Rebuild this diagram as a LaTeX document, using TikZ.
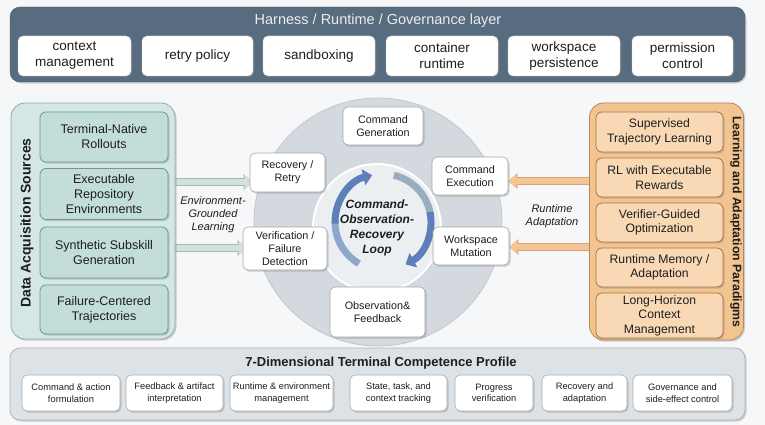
\documentclass[tikz,border=0pt]{standalone}
\usepackage{fontspec}
\setmainfont{Liberation Sans}
\usetikzlibrary{shadows,arrows.meta}
\pgfdeclarelayer{bg}
\pgfdeclarelayer{conn}
\pgfsetlayers{bg,conn,main}
\definecolor{bgc}{HTML}{F6F7F9}
\definecolor{slate}{HTML}{586C7F}
\definecolor{slateline}{HTML}{465868}
\definecolor{tealout}{HTML}{D4E7E4}
\definecolor{tealin}{HTML}{C3DDDA}
\definecolor{tealline}{HTML}{6F9894}
\definecolor{orout}{HTML}{F2C48F}
\definecolor{orin}{HTML}{F9D9B5}
\definecolor{orline}{HTML}{A8733D}
\definecolor{ringc}{HTML}{D3D9DF}
\definecolor{hubc}{HTML}{ECEFF2}
\definecolor{graypanel}{HTML}{DDE2E7}
\definecolor{txt}{HTML}{1E1E1E}
\definecolor{tarr}{HTML}{D2E2DE}
\definecolor{tarrline}{HTML}{A3B9B4}
\definecolor{oarr}{HTML}{F4C597}
\definecolor{oarrline}{HTML}{D9A26E}
\definecolor{blueA}{HTML}{8DA8CC}
\definecolor{blueB}{HTML}{5D80BA}
\definecolor{blueC}{HTML}{9AACC0}
\definecolor{topline}{HTML}{C9CED4}
\tikzset{
  sh/.style={drop shadow={shadow xshift=1.5pt, shadow yshift=-1.6pt, opacity=0.35}},
  topbox/.style={sh, fill=white, draw=topline, rounded corners=5pt, align=center, text=txt,
    font=\fontsize{13.5}{16}\selectfont, inner sep=1pt, minimum height=40pt},
  leftbox/.style={sh, fill=tealin, draw=tealline, line width=0.8pt, rounded corners=6pt,
    align=center, text=txt, font=\fontsize{12.5}{15}\selectfont, inner sep=1pt, minimum width=128pt},
  rightbox/.style={sh, fill=orin, draw=orline, line width=0.8pt, rounded corners=6pt,
    align=center, text=txt, font=\fontsize{12.2}{14.5}\selectfont, inner sep=1pt, minimum width=127pt},
  loopbox/.style={sh, fill=white, draw=gray!70, line width=0.6pt, rounded corners=5pt,
    align=center, text=txt, font=\fontsize{10.8}{13}\selectfont, inner sep=1pt},
  botbox/.style={sh, fill=white, draw=gray!65, line width=0.6pt, rounded corners=5pt,
    align=center, text=txt, font=\fontsize{9.3}{11.5}\selectfont, inner sep=1pt, minimum height=36pt},
  tealarrow/.style={draw=tarr, line width=6.5pt, -{Triangle[width=13pt,length=8pt]},
    preaction={draw=tarrline, line width=8pt, -{Triangle[width=15pt,length=9pt]}}},
  orarrow/.style={draw=oarr, line width=6.5pt, -{Triangle[width=13pt,length=8pt]},
    preaction={draw=oarrline, line width=8pt, -{Triangle[width=15pt,length=9pt]}}},
  ital/.style={font=\itshape\fontsize{11}{13}\selectfont, align=center, text=txt},
}
\begin{document}
\begin{tikzpicture}[x=1pt,y=-1pt]
\useasboundingbox (0,0) rectangle (765,425);
\begin{pgfonlayer}{bg}
\fill[bgc] (0,0) rectangle (765,425);
\node[circle, fill=ringc, draw=gray!45, line width=0.8pt, minimum size=248pt] (ring) at (378,222) {};
\node[circle, fill=hubc, draw=white, line width=2pt, minimum size=128pt,
      drop shadow={shadow xshift=0pt, shadow yshift=-1pt, opacity=0.2}] (hub) at (377,228) {};
\end{pgfonlayer}

% ---------- top panel ----------
\node[sh, fill=slate, draw=slateline, rounded corners=10pt, minimum width=735pt, minimum height=75pt] (harness) at (377.5,44.5) {};
\node[text=white!88!slate, font=\fontsize{14.5}{16}\selectfont] (htitle) at (378,21) {Harness / Runtime / Governance layer};
\node[topbox, minimum width=113pt] (t1) at (74.5,56) {context\\management};
\node[topbox, minimum width=111pt] (t2) at (197.5,56) {retry policy};
\node[topbox, minimum width=112pt] (t3) at (319,56) {sandboxing};
\node[topbox, minimum width=112pt] (t4) at (442,56) {container\\runtime};
\node[topbox, minimum width=112pt] (t5) at (564,56) {workspace\\persistence};
\node[topbox, minimum width=101pt] (t6) at (682.5,56) {permission\\control};

% ---------- left panel ----------
\node[sh, fill=tealout, draw=tealline!80, line width=0.8pt, rounded corners=14pt, minimum width=164pt, minimum height=236pt] (dataouter) at (93,221) {};
\node[rotate=90, font=\bfseries\fontsize{14}{16}\selectfont, text=txt] (datalabel) at (27,223) {Data Acquisition Sources};
\node[leftbox, minimum height=50pt] (d1) at (104,137) {Terminal-Native\\Rollouts};
\node[leftbox, minimum height=51pt] (d2) at (104,194) {Executable\\Repository\\Environments};
\node[leftbox, minimum height=51pt] (d3) at (104,252.5) {Synthetic Subskill\\Generation};
\node[leftbox, minimum height=49pt] (d4) at (104,309.5) {Failure-Centered\\Trajectories};

% ---------- right panel ----------
\node[sh, fill=orout, draw=orline!85, line width=0.8pt, rounded corners=14pt, minimum width=154pt, minimum height=237pt] (learnouter) at (666.5,221.5) {};
\node[rotate=-90, font=\bfseries\fontsize{12.3}{14}\selectfont, text=txt] (learnlabel) at (736,222) {Learning and Adaptation Paradigms};
\node[rightbox, minimum height=40pt] (r1) at (659.5,132) {Supervised\\Trajectory Learning};
\node[rightbox, minimum height=39pt] (r2) at (659.5,177.5) {RL with Executable\\Rewards};
\node[rightbox, minimum height=39pt] (r3) at (659.5,222.5) {Verifier-Guided\\Optimization};
\node[rightbox, minimum height=39pt] (r4) at (659.5,267.5) {Runtime Memory /\\Adaptation};
\node[rightbox, minimum height=45pt] (r5) at (659.5,315.5) {Long-Horizon\\Context\\Management};

% ---------- central loop ----------
\draw[blueA, line width=7pt] ([shift={(383,222)}]240:48pt) arc[start angle=240, end angle=180, radius=48pt];
\draw[blueB, line width=7pt, -{Triangle[width=16pt,length=9pt]}] ([shift={(383,222)}]182:48pt) arc[start angle=182, end angle=103, radius=48pt];
\draw[blueC, line width=7pt] ([shift={(383,222)}]77:48pt) arc[start angle=77, end angle=10, radius=48pt];
\draw[blueB, line width=7pt, -{Triangle[width=16pt,length=9pt]}] ([shift={(383,222)}]12:48pt) arc[start angle=12, end angle=-62, radius=48pt];

\node[font=\bfseries\itshape\fontsize{12}{15}\selectfont, align=center, text=txt] (loop) at (377,228) {Command-\\Observation-\\Recovery\\Loop};

\node[loopbox, minimum width=80pt, minimum height=38pt] (cg) at (383,126) {Command\\Generation};
\node[loopbox, minimum width=76pt, minimum height=38pt] (ce) at (470,176) {Command\\Execution};
\node[loopbox, minimum width=76pt, minimum height=38pt] (wm) at (471,246) {Workspace\\Mutation};
\node[loopbox, minimum width=95pt, minimum height=50pt] (of) at (377.5,312) {Observation\&\\Feedback};
\node[loopbox, minimum width=84pt, minimum height=43pt] (vf) at (285,248.5) {Verification /\\Failure\\Detection};
\node[loopbox, minimum width=75pt, minimum height=39pt] (rr) at (287.5,172.5) {Recovery /\\Retry};

% ---------- connectors (behind the step boxes) ----------
\begin{pgfonlayer}{conn}
\draw[tealarrow] (dataouter.east |- 0,182) -- ([xshift=3pt]rr.west |- 0,182);
\draw[tealarrow] (dataouter.east |- 0,248) -- ([xshift=4pt]vf.west |- 0,248);
\draw[orarrow] (learnouter.west |- 0,181) -- (ce.east |- 0,181);
\draw[orarrow] (learnouter.west |- 0,247) -- (wm.east |- 0,247);
\end{pgfonlayer}

\node[ital] (envlabel) at (213,215) {Environment-\\Grounded\\Learning};
\node[ital] (rtlabel) at (552,216) {Runtime\\Adaptation};

% ---------- bottom panel ----------
\node[sh, fill=graypanel, draw=gray!60, line width=0.8pt, rounded corners=10pt, minimum width=735pt, minimum height=72pt] (profile) at (377.5,384) {};
\node[font=\bfseries\fontsize{13}{15}\selectfont, text=txt] (ptitle) at (381,363) {7-Dimensional Terminal Competence Profile};
\node[botbox, minimum width=98pt] (b1) at (71,393) {Command \& action\\formulation};
\node[botbox, minimum width=97pt] (b2) at (174.5,393) {Feedback \& artifact\\interpretation};
\node[botbox, minimum width=103pt] (b3) at (281.5,393) {Runtime \& environment\\management};
\node[botbox, minimum width=97pt] (b4) at (398.5,393) {State, task, and\\context tracking};
\node[botbox, minimum width=78pt] (b5) at (494,393) {Progress\\verification};
\node[botbox, minimum width=85pt] (b6) at (584.5,393) {Recovery and\\adaptation};
\node[botbox, minimum width=99pt] (b7) at (682.5,393) {Governance and\\side-effect control};
\end{tikzpicture}
\end{document}
